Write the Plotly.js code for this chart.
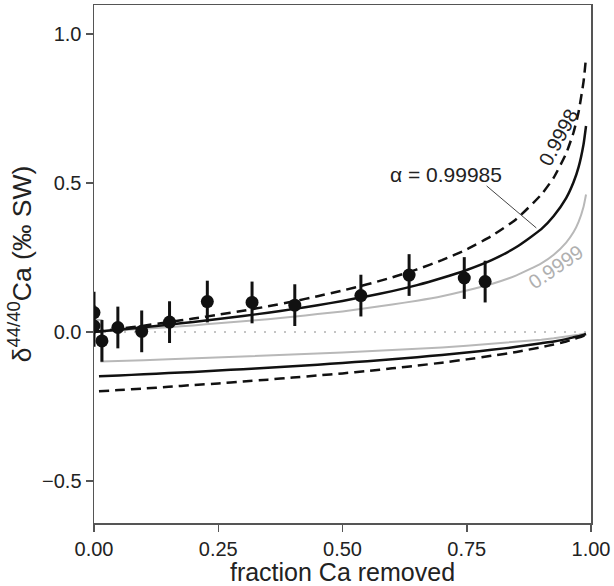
<!DOCTYPE html>
<html>
<head>
<meta charset="utf-8">
<script src="https://cdn.plot.ly/plotly-3.0.1.min.js"></script>
<style>html,body{margin:0;padding:0;background:#fff;}#chart{width:614px;height:586px;}</style>
</head>
<body>
<div id="chart"></div>
<script>
// fraction of Ca removed (model grid)
const fracX = [0, 0.01, 0.05, 0.1, 0.15, 0.2, 0.25, 0.3, 0.35, 0.4, 0.45, 0.5, 0.55, 0.6, 0.65, 0.7, 0.75, 0.8, 0.85, 0.9, 0.925, 0.95, 0.965, 0.975, 0.985, 0.99];
// residual (upper) curves
const resid9998  = [0, 0.002, 0.010, 0.021, 0.033, 0.045, 0.058, 0.071, 0.086, 0.102, 0.120, 0.139, 0.160, 0.183, 0.210, 0.241, 0.277, 0.322, 0.379, 0.461, 0.518, 0.599, 0.670, 0.738, 0.840, 0.921];
const resid99985 = [0, 0.0015, 0.0077, 0.0158, 0.0244, 0.0335, 0.0432, 0.0535, 0.0646, 0.0766, 0.0897, 0.104, 0.120, 0.137, 0.157, 0.181, 0.208, 0.241, 0.285, 0.345, 0.389, 0.449, 0.503, 0.553, 0.630, 0.691];
const resid9999  = [0, 0.001, 0.005, 0.011, 0.016, 0.022, 0.029, 0.036, 0.043, 0.051, 0.060, 0.069, 0.080, 0.092, 0.105, 0.120, 0.139, 0.161, 0.190, 0.230, 0.259, 0.300, 0.335, 0.369, 0.420, 0.461];
// accumulated product (lower) curves
const prodX = [0.01, 0.05, 0.1, 0.15, 0.2, 0.25, 0.3, 0.35, 0.4, 0.45, 0.5, 0.55, 0.6, 0.65, 0.7, 0.75, 0.8, 0.85, 0.9, 0.925, 0.95, 0.965, 0.975, 0.985, 0.99];
const prod9998  = [-0.199, -0.195, -0.190, -0.184, -0.178, -0.173, -0.166, -0.160, -0.153, -0.146, -0.139, -0.131, -0.122, -0.113, -0.103, -0.092, -0.080, -0.067, -0.051, -0.042, -0.032, -0.024, -0.019, -0.013, -0.009];
const prod99985 = [-0.149, -0.146, -0.142, -0.138, -0.134, -0.129, -0.125, -0.120, -0.115, -0.110, -0.104, -0.098, -0.092, -0.085, -0.077, -0.069, -0.060, -0.050, -0.038, -0.032, -0.024, -0.018, -0.014, -0.010, -0.007];
const prodGreyX = [0, 0.015, 0.015, 0.05, 0.1, 0.15, 0.2, 0.25, 0.3, 0.35, 0.4, 0.45, 0.5, 0.55, 0.6, 0.65, 0.7, 0.75, 0.8, 0.85, 0.9, 0.925, 0.95, 0.965, 0.975, 0.985, 0.99];
const prod9999  = [0.04, 0.04, -0.099, -0.098, -0.095, -0.092, -0.089, -0.086, -0.083, -0.080, -0.077, -0.073, -0.069, -0.065, -0.061, -0.057, -0.052, -0.046, -0.040, -0.034, -0.026, -0.021, -0.016, -0.012, -0.009, -0.006, -0.005];
// measured samples
const ptsX = [0, 0, 0.016, 0.048, 0.096, 0.152, 0.228, 0.318, 0.404, 0.537, 0.634, 0.745, 0.787];
const ptsY = [0.065, 0.02, -0.03, 0.015, 0.002, 0.033, 0.102, 0.099, 0.090, 0.122, 0.191, 0.181, 0.169];
const ptsErr = [0.07, 0.07, 0.07, 0.07, 0.07, 0.07, 0.07, 0.07, 0.07, 0.07, 0.07, 0.07, 0.07];
const zeroX = [0, 1];
const zeroY = [0, 0];

const BLACK = '#111111', GREY = '#b8b8b8';
const FONT = 'Liberation Sans, Arial, sans-serif';

const traces = [
  {x: zeroX, y: zeroY, mode: 'lines', line: {color: '#c4c4c4', width: 2, dash: '2px,8px'}, hoverinfo: 'skip'},
  {x: prodGreyX, y: prod9999, mode: 'lines', line: {color: GREY, width: 2}},
  {x: prodX, y: prod99985, mode: 'lines', line: {color: BLACK, width: 2.5, shape: 'spline', smoothing: 0.5}},
  {x: prodX, y: prod9998, mode: 'lines', line: {color: BLACK, width: 2.5, dash: '10px,6px', shape: 'spline', smoothing: 0.5}},
  {x: fracX, y: resid9999, mode: 'lines', line: {color: GREY, width: 2, shape: 'spline', smoothing: 0.5}},
  {x: fracX, y: resid9998, mode: 'lines', line: {color: BLACK, width: 2.5, dash: '10px,6px', shape: 'spline', smoothing: 0.5}},
  {x: fracX, y: resid99985, mode: 'lines', line: {color: BLACK, width: 2.5, shape: 'spline', smoothing: 0.5}},
  {x: ptsX, y: ptsY, mode: 'markers', marker: {color: BLACK, size: 13},
   error_y: {type: 'data', array: ptsErr, visible: true, color: BLACK, thickness: 3, width: 0}}
];

const layout = {
  width: 614, height: 586,
  margin: {l: 94, r: 23, t: 5, b: 63},
  paper_bgcolor: '#fff', plot_bgcolor: '#fff',
  showlegend: false,
  font: {family: FONT, color: '#222', size: 20},
  xaxis: {
    range: [0, 1], tickvals: [0, 0.25, 0.5, 0.75, 1], tickformat: '.2f',
    showgrid: false, zeroline: false, showline: true, mirror: true,
    linecolor: '#555', linewidth: 1.5, ticks: 'outside', ticklen: 7, tickcolor: '#555', tickwidth: 1.5,
    tickfont: {size: 20, color: '#222'},
    title: {text: 'fraction Ca removed', font: {size: 25, color: '#222'}, standoff: 3},
    automargin: false
  },
  yaxis: {
    range: [-0.641, 1.097], tickvals: [-0.5, 0, 0.5, 1], tickformat: '.1f',
    showgrid: false, zeroline: false, showline: true, mirror: true,
    linecolor: '#555', linewidth: 1.5, ticks: 'outside', ticklen: 7, tickcolor: '#555', tickwidth: 1.5,
    tickfont: {size: 20, color: '#222'},
    title: {text: 'δ<sup>44/40</sup>Ca (‰ SW)', font: {size: 26.5, color: '#222'}, standoff: 2},
    automargin: false
  },
  shapes: [
    {type: 'line', xref: 'x', yref: 'y', x0: 0.790, y0: 0.490, x1: 0.890, y1: 0.349, line: {color: '#444', width: 1}}
  ],
  annotations: [
    {x: 0.709, y: 0.527, xref: 'x', yref: 'y', text: 'α = 0.99985', showarrow: false, font: {size: 21, color: '#222'}},
    {x: 0.935, y: 0.653, xref: 'x', yref: 'y', text: '0.9998', showarrow: false, textangle: -62, font: {size: 20, color: '#222'}},
    {x: 0.929, y: 0.219, xref: 'x', yref: 'y', text: '0.9999', showarrow: false, textangle: -34.5, font: {size: 20, color: '#b0b0b0'}}
  ]
};

Plotly.newPlot('chart', traces, layout, {displayModeBar: false, staticPlot: true});
</script>
</body>
</html>
